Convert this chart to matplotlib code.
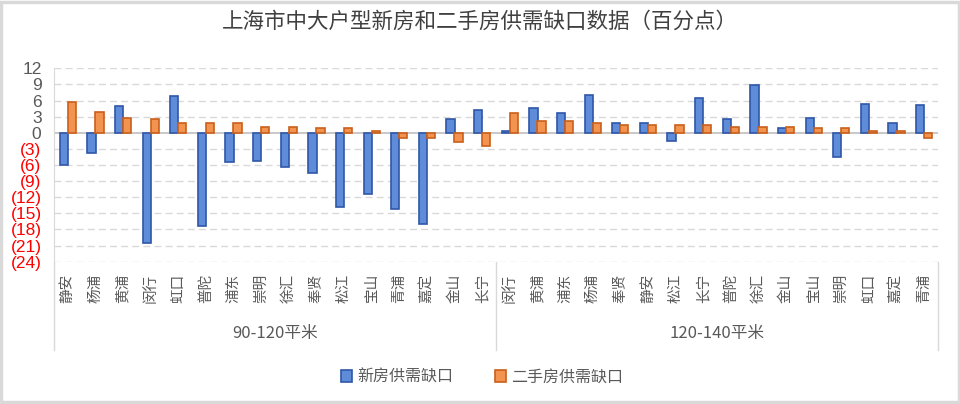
import matplotlib
matplotlib.use("Agg")
import matplotlib.pyplot as plt
from matplotlib.patches import Patch, Rectangle
from matplotlib.lines import Line2D
import matplotlib.transforms as mtransforms

plt.rcParams['font.family'] = ['Noto Sans CJK SC', 'DejaVu Sans']

title = "上海市中大户型新房和二手房供需缺口数据（百分点）"
groups = ["90-120平米", "120-140平米"]
cats1 = ['静安', '杨浦', '黄浦', '闵行', '虹口', '普陀', '浦东', '崇明', '徐汇', '奉贤',
         '松江', '宝山', '青浦', '嘉定', '金山', '长宁']
cats2 = ['闵行', '黄浦', '浦东', '杨浦', '奉贤', '静安', '松江', '长宁', '普陀', '徐汇',
         '金山', '宝山', '崇明', '虹口', '嘉定', '青浦']
new1 = [-6.0, -3.8, 5.0, -20.5, 6.8, -17.4, -5.5, -5.2, -6.3, -7.4, -13.8, -11.4, -14.2, -17.0, 2.5, 4.3]
sec1 = [5.7, 3.9, 2.8, 2.5, 1.8, 1.8, 1.8, 1.1, 1.1, 0.8, 0.8, 0.4, -0.9, -0.9, -1.8, -2.4]
new2 = [0.3, 4.6, 3.6, 7.1, 1.8, 1.8, -1.6, 6.4, 2.5, 8.8, 0.8, 2.8, -4.5, 5.4, 1.8, 5.1]
sec2 = [3.6, 2.1, 2.1, 1.8, 1.4, 1.4, 1.4, 1.4, 1.1, 1.1, 1.1, 0.8, 0.8, 0.4, 0.4, -0.9]
series_names = ["新房供需缺口", "二手房供需缺口"]
yticks = [12, 9, 6, 3, 0, -3, -6, -9, -12, -15, -18, -21, -24]

cats = cats1 + cats2
new_vals = new1 + new2
sec_vals = sec1 + sec2
x = list(range(len(cats)))

blue_face, blue_edge = '#5F8CD8', '#2F56A8'
orange_face, orange_edge = '#F39350', '#C9601A'
grey_text = '#595959'

fig = plt.figure(figsize=(9.6, 4.04), dpi=100)
ax = fig.add_axes([0.05625, 0.35223, 0.92083, 0.47871])

w = 0.30
off = 0.145
ax.bar([i - off for i in x], new_vals, width=w, color=blue_face, edgecolor=blue_edge,
       linewidth=1.2, zorder=3)
ax.bar([i + off for i in x], sec_vals, width=w, color=orange_face, edgecolor=orange_edge,
       linewidth=1.2, zorder=3)

ax.set_xlim(-0.5, len(cats) - 0.5)
ax.set_ylim(-24, 12)
ax.set_yticks(yticks)
labels = [str(v) if v >= 0 else "(%d)" % (-v) for v in yticks]
ax.set_yticklabels(labels, family=['Liberation Sans', 'DejaVu Sans'], fontsize=12.5)
for t, v in zip(ax.get_yticklabels(), yticks):
    t.set_color('#FF0000' if v < 0 else grey_text)
ax.tick_params(axis='y', length=0, pad=9)

ax.set_xticks(x)
ax.set_xticklabels(cats, rotation=90, fontsize=10.5, color=grey_text)
ax.tick_params(axis='x', length=0, pad=9)

for v in yticks:
    if v == 0:
        ax.axhline(0, color='#bfbfbf', lw=1.2, zorder=2)
    else:
        ax.axhline(v, color='#d9d9d9', lw=1.0, ls=(0, (5, 3)), zorder=1)

for s in ['top', 'right', 'bottom']:
    ax.spines[s].set_visible(False)
ax.spines['left'].set_color('#d9d9d9')

trans = mtransforms.blended_transform_factory(ax.transData, ax.transAxes)
for xs in [-0.5, 15.5, 31.5]:
    ax.add_line(Line2D([xs, xs], [0, -0.457], transform=trans, color='#d9d9d9',
                       lw=1.0, clip_on=False))
ax.text(7.5, -0.369, groups[0], transform=trans, ha='center', va='center',
        fontsize=12, color=grey_text)
ax.text(23.5, -0.369, groups[1], transform=trans, ha='center', va='center',
        fontsize=12, color=grey_text)

fig.text(0.5, 1 - 22 / 404, title, ha='center', va='center', fontsize=15.5, color='#404040')

handles = [Patch(facecolor=blue_face, edgecolor=blue_edge, lw=1.2),
           Patch(facecolor=orange_face, edgecolor=orange_edge, lw=1.2)]
fig.legend(handles, series_names, loc='center', bbox_to_anchor=(482 / 960, 1 - 377 / 404),
           ncol=2, frameon=False, fontsize=11.5, handlelength=0.7, handleheight=0.7,
           handletextpad=0.3, columnspacing=2.6, labelcolor=grey_text)

fig.patches.append(Rectangle((0.0015, 0.004), 0.997, 0.992, transform=fig.transFigure,
                             fill=False, edgecolor='#d9d9d9', lw=2.5))

fig.savefig('out.png', dpi=100)
